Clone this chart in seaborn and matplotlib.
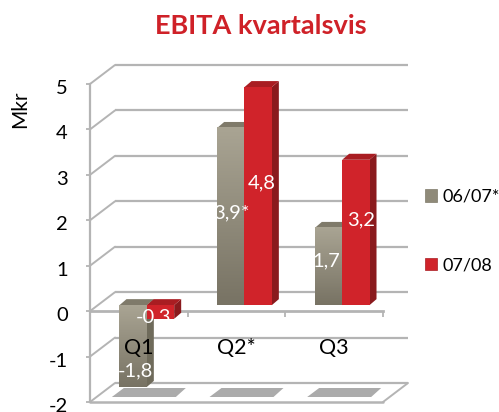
import matplotlib
matplotlib.use("Agg")
import matplotlib.pyplot as plt
import numpy as np
import pandas as pd
import seaborn as sns
from matplotlib.patches import Polygon, Patch
from matplotlib.transforms import Affine2D, IdentityTransform

quarters = ["Q1", "Q2*", "Q3"]
series_names = ["06/07*", "07/08"]
values_0607 = [-1.8, 3.9, 1.7]
values_0708 = [-0.3, 4.8, 3.2]
labels_0607 = ["-1,8", "3,9*", "1,7"]
labels_0708 = ["-0,3", "4,8", "3,2"]
y_ticks = [-2, -1, 0, 1, 2, 3, 4, 5]

GRAY, RED = "#8f8a79", "#d0232a"
GRAY_TOP, GRAY_SIDE = "#7f7a6a", "#6f6b5b"
RED_TOP, RED_SIDE = "#a91d22", "#8a1a1d"
LINE = "#b4b4b4"
W, H = 499, 412

sns.set_theme(style="white")
plt.rcParams["font.family"] = ["Lato", "DejaVu Sans"]

df = pd.DataFrame({
    "q": quarters * 2,
    "s": [series_names[0]] * 3 + [series_names[1]] * 3,
    "v": values_0607 + values_0708,
})

fig = plt.figure(figsize=(W / 100, H / 100), dpi=100)
L, R, T, B = 90, 383, 84, 402
ax = fig.add_axes([L / W, 1 - B / H, (R - L) / W, (B - T) / H])

sns.barplot(data=df, x="q", y="v", hue="s", order=quarters, hue_order=series_names,
            palette=[GRAY, RED], width=0.56, gap=0, dodge=True, errorbar=None,
            saturation=1, legend=False, ax=ax, zorder=3, linewidth=0, edgecolor="none")
ax.set_xlim(-0.5, 2.5)
ax.set_ylim(-2, 5)
ax.set_xlabel("")

# wall / floor depth
DX, DY = 25, 19
back = Affine2D().translate(DX, DY)
to_px = ax.transData.transform
idt = IdentityTransform()
for v in y_ticks:
    ax.plot([-0.5, 2.5], [v, v], color=LINE, lw=1.6, transform=ax.transData + back,
            clip_on=False, zorder=1, solid_capstyle="butt")
    x0, y0 = to_px((-0.5, v))
    ax.plot([x0, x0 + DX], [y0, y0 + DY], color=LINE, lw=1.4, transform=idt,
            clip_on=False, zorder=1)
xr, yr = to_px((2.5, -2))
ax.plot([xr, xr + DX], [yr, yr + DY], color=LINE, lw=1.4, transform=idt, clip_on=False, zorder=1)
ax.axhline(-2, color=LINE, lw=1.8, zorder=1.5, clip_on=False)

# floor shadows
for i in range(len(quarters)):
    c, yb = to_px((i, -2))
    ax.add_patch(Polygon([[c - 27, yb + 5], [c + 37, yb + 5], [c + 47, yb + 14], [c - 15, yb + 14]],
                         closed=True, fc="#ababab", ec="none", transform=idt, zorder=1.2, clip_on=False))

# spines and ticks
for s in ["top", "right"]:
    ax.spines[s].set_visible(False)
ax.spines["left"].set_color(LINE)
ax.spines["left"].set_linewidth(1.6)
ax.spines["bottom"].set_position(("data", 0))
ax.spines["bottom"].set_color(LINE)
ax.spines["bottom"].set_linewidth(2)
ax.spines["bottom"].set_zorder(2)

ax.set_xticks(range(3), quarters)
ax.set_xticks([-0.5, 0.5, 1.5, 2.5], minor=True)
ax.tick_params(axis="x", which="major", length=0, pad=19, labelsize=15.5, labelcolor="black")
ax.tick_params(axis="x", which="minor", bottom=True, length=4.5, width=1.3, color=LINE)
ax.xaxis.set_zorder(6)
ax.set_yticks(y_ticks, [str(v) for v in y_ticks])
ax.tick_params(axis="y", left=True, length=3, width=1.3, color=LINE, pad=13, labelsize=14.5, labelcolor="black")
for lab in ax.get_yticklabels():
    lab.set_transform(lab.get_transform() + Affine2D().translate(0, -3))
ax.set_ylabel("Mkr", fontsize=15, color="black")
ax.yaxis.set_label_coords(-0.205, 0.92)

# 3D look on the bars
BX, BY = 8, 6
DEPX, DEPY = 7, 6
shift = Affine2D().translate(BX, BY)
bars = [p for p in ax.patches if type(p).__name__ == "Rectangle"]
grad = np.linspace(0, 1, 64).reshape(-1, 1)
gray_cmap = matplotlib.colors.LinearSegmentedColormap.from_list("g", ["#a9a493", "#787364"])
all_labels = labels_0607 + labels_0708
label_shift = [(2, -25), (1, 4), (-2, 6), (-7, -5), (4, 13), (5, 13)]
for k, bar in enumerate(bars[:6]):
    is_gray = k < 3
    x, w, h = bar.get_x(), bar.get_width(), bar.get_height()
    (xa, ya) = to_px((x, 0)) + np.array([BX, BY])
    (xb, yb) = to_px((x + w, h)) + np.array([BX, BY])
    ylo, yhi = min(ya, yb), max(ya, yb)
    ax.add_patch(Polygon([[xb, ylo], [xb + DEPX, ylo + DEPY], [xb + DEPX, yhi + DEPY], [xb, yhi]],
                         closed=True, fc=GRAY_SIDE if is_gray else RED_SIDE, ec="none",
                         transform=idt, zorder=3 + k * 0.1 - 0.05, clip_on=False))
    ax.add_patch(Polygon([[xa, yhi], [xb, yhi], [xb + DEPX, yhi + DEPY], [xa + DEPX, yhi + DEPY]],
                         closed=True, fc=GRAY_TOP if is_gray else RED_TOP, ec="none",
                         transform=idt, zorder=3 + k * 0.1 - 0.05, clip_on=False))
    bar.set_transform(ax.transData + shift)
    bar.set_clip_on(False)
    bar.set_zorder(3 + k * 0.1)
    if is_gray:
        ax.imshow(grad, cmap=gray_cmap, aspect="auto", extent=(x, x + w, min(0, h), max(0, h)),
                  transform=ax.transData + shift, zorder=3 + k * 0.1 + 0.01, clip_on=False)
    dx, dy = label_shift[k]
    cx, cy = to_px((x + w / 2, h / 2)) + np.array([BX + dx, BY + dy])
    ax.text(cx, cy, all_labels[k], color="white", fontsize=14.5, ha="center", va="center",
            transform=idt, zorder=5, clip_on=False)
ax.set_xlim(-0.5, 2.5)
ax.set_ylim(-2, 5)

ax.text((261 - L) / (R - L), (B - 26) / (B - T), "EBITA kvartalsvis", transform=ax.transAxes,
        ha="center", va="center", fontsize=19.5, fontweight="bold", color="#cf2128", clip_on=False)

handles = [Patch(fc=GRAY, ec="#7f7a6a", lw=0.5), Patch(fc=RED, ec="#a91d22", lw=0.5)]
fig.legend(handles, series_names, loc="center left", bbox_to_anchor=(425 / W, 1 - 231 / H), frameon=False,
           fontsize=13, handlelength=0.67, handleheight=0.67, handletextpad=0.28, labelspacing=2.9,
           labelcolor="black", borderpad=0, borderaxespad=0)

fig.savefig("out.png", dpi=100, facecolor="white")
